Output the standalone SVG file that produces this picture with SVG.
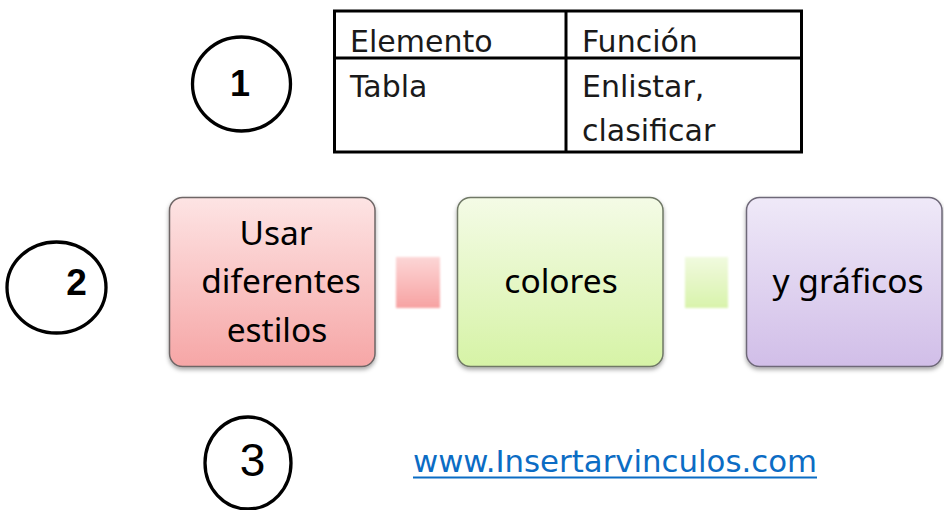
<svg xmlns="http://www.w3.org/2000/svg" width="944" height="510" viewBox="0 0 944 510">
  <defs>
    <linearGradient id="gRed" x1="0" y1="0" x2="0" y2="1">
      <stop offset="0" stop-color="#fde4e4"/>
      <stop offset="1" stop-color="#f6a6a6"/>
    </linearGradient>
    <linearGradient id="gGreen" x1="0" y1="0" x2="0" y2="1">
      <stop offset="0" stop-color="#f4fbe6"/>
      <stop offset="1" stop-color="#d6f3a6"/>
    </linearGradient>
    <linearGradient id="gPurple" x1="0" y1="0" x2="0" y2="1">
      <stop offset="0" stop-color="#efe9f8"/>
      <stop offset="1" stop-color="#d1bee8"/>
    </linearGradient>
    <linearGradient id="gRedC" x1="0" y1="0" x2="0" y2="1">
      <stop offset="0" stop-color="#fcd6d6"/>
      <stop offset="1" stop-color="#f7a2a2"/>
    </linearGradient>
    <linearGradient id="gGreenC" x1="0" y1="0" x2="0" y2="1">
      <stop offset="0" stop-color="#f1fadf"/>
      <stop offset="1" stop-color="#d8f3ab"/>
    </linearGradient>
    <filter id="shadow" x="-10%" y="-10%" width="120%" height="125%">
      <feDropShadow dx="0" dy="2.5" stdDeviation="2" flood-color="#000" flood-opacity="0.35"/>
    </filter>
    <filter id="soft" x="-10%" y="-10%" width="120%" height="120%">
      <feGaussianBlur stdDeviation="0.8"/>
    </filter>
  </defs>
  <style>
    .circle { fill: none; stroke: #000; stroke-width: 3.3; }
    .num { font-family: "Liberation Sans", Arial, sans-serif; text-anchor: middle; fill: #000; }
    .cell { font-family: "DejaVu Sans", "Liberation Sans", sans-serif; font-size: 30px; fill: #1a1a1a; }
    .box { stroke-width: 1.5; filter: url(#shadow); }
    .boxtext { font-family: "Noto Sans", "Open Sans", sans-serif; font-size: 33.5px; text-anchor: middle; fill: #000; }
    .link { font-family: "DejaVu Sans", "Liberation Sans", sans-serif; font-size: 30px; fill: #0b6cc4; }
  </style>

  <rect width="944" height="510" fill="#fff"/>

  <g id="marker1">
    <ellipse class="circle" cx="241.5" cy="84" rx="49" ry="47"/>
    <text class="num" x="240" y="96" font-size="36" font-weight="bold">1</text>
  </g>

  <g id="table">
    <rect x="334.5" y="11" width="467" height="141" fill="none" stroke="#000" stroke-width="3"/>
    <line x1="334.5" y1="58" x2="801.5" y2="58" stroke="#000" stroke-width="3"/>
    <line x1="566" y1="11" x2="566" y2="152" stroke="#000" stroke-width="3"/>
    <text class="cell" x="350" y="51.5">Elemento</text>
    <text class="cell" x="582" y="51.5">Función</text>
    <text class="cell" x="350" y="96.5">Tabla</text>
    <text class="cell" x="582" y="96.5">Enlistar,</text>
    <text class="cell" x="582" y="141">clasificar</text>
  </g>

  <g id="marker2">
    <ellipse class="circle" cx="56.5" cy="287.5" rx="49.5" ry="45.5"/>
    <text class="num" x="76.5" y="295" font-size="37" font-weight="bold">2</text>
  </g>

  <g id="connectors">
    <rect x="396" y="257" width="44" height="51" fill="url(#gRedC)" filter="url(#soft)"/>
    <rect x="685" y="257" width="43" height="51" fill="url(#gGreenC)" filter="url(#soft)"/>
  </g>

  <g id="box-estilos">
    <rect class="box" x="169.5" y="197.5" width="205.5" height="169" rx="13" fill="url(#gRed)" stroke="#6e6666"/>
    <text class="boxtext" x="276" y="245">Usar</text>
    <text class="boxtext" x="281" y="293">diferentes</text>
    <text class="boxtext" x="277" y="342">estilos</text>
  </g>

  <g id="box-colores">
    <rect class="box" x="457.5" y="197.5" width="205.5" height="169" rx="13" fill="url(#gGreen)" stroke="#6f7866"/>
    <text class="boxtext" x="561" y="293">colores</text>
  </g>

  <g id="box-graficos">
    <rect class="box" x="746.5" y="197.5" width="195.5" height="169" rx="13" fill="url(#gPurple)" stroke="#6e6878"/>
    <text class="boxtext" x="848" y="293">y gráficos</text>
  </g>

  <g id="marker3">
    <ellipse class="circle" cx="248" cy="463" rx="43" ry="46"/>
    <text class="num" x="252.5" y="476" font-size="46">3</text>
  </g>

  <g id="link">
    <text class="link" x="413" y="472" textLength="404" lengthAdjust="spacingAndGlyphs">www.Insertarvinculos.com</text>
    <rect x="413" y="476.5" width="404" height="2" fill="#0b6cc4"/>
  </g>
</svg>
